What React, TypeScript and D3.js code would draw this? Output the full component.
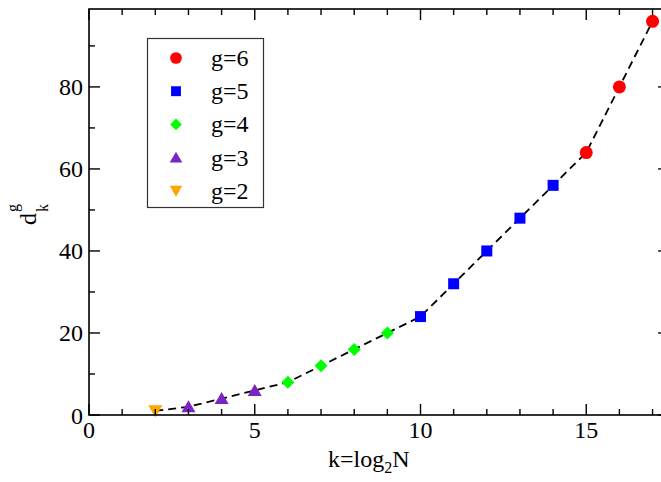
import React, { useEffect, useRef } from "react";
import * as d3 from "d3";

const kValues = [2, 3, 4, 5, 6, 7, 8, 9, 10, 11, 12, 13, 14, 15, 16, 17];
const dValues = [1, 2, 4, 6, 8, 12, 16, 20, 24, 32, 40, 48, 56, 64, 80, 96];
const gValues = [2, 3, 3, 3, 4, 4, 4, 4, 5, 5, 5, 5, 5, 6, 6, 6];

const legendGroups = [6, 5, 4, 3, 2];
const legendLabels = ["g=6", "g=5", "g=4", "g=3", "g=2"];
const xMajorTicks = [0, 5, 10, 15];
const yMajorTicks = [0, 20, 40, 60, 80];

const colors: Record<number, string> = {
  6: "#ff0000",
  5: "#0000ff",
  4: "#00ff00",
  3: "#7a24c4",
  2: "#ffa500",
};

const FONT = '"Liberation Serif", "Tinos", "Times New Roman", "Nimbus Roman", "FreeSerif", serif';

function Marker({ g, cx, cy, s = 1 }: { g: number; cx: number; cy: number; s?: number }) {
  const c = colors[g];
  if (g === 6) return <circle cx={cx} cy={cy} r={6.5 * s} fill={c} />;
  if (g === 5) return <rect x={cx - 5.5 * s} y={cy - 5.5 * s} width={11 * s} height={11 * s} fill={c} />;
  if (g === 4) {
    const r = 6.5 * s;
    return <path d={`M${cx},${cy - r}L${cx + r},${cy}L${cx},${cy + r}L${cx - r},${cy}Z`} fill={c} />;
  }
  if (g === 3) {
    const w = 7 * s, h = 6.5 * s;
    return <path d={`M${cx},${cy - h}L${cx + w},${cy + h * 0.85}L${cx - w},${cy + h * 0.85}Z`} fill={c} />;
  }
  const w = 7 * s, h = 6.5 * s;
  return <path d={`M${cx},${cy + h}L${cx + w},${cy - h * 0.85}L${cx - w},${cy - h * 0.85}Z`} fill={c} />;
}

export default function App() {
  const ref = useRef<SVGSVGElement | null>(null);
  const W = 661, H = 482;
  const left = 89, top = 9, bottom = 415;
  const x = d3.scaleLinear().domain([0, 17.5]).range([left, left + 17.5 * 33.15]);
  const y = d3.scaleLinear().domain([0, 99]).range([bottom, top]);
  const right = x(17.5);

  const pts = kValues.map((k, i) => ({ k, d: dValues[i], g: gValues[i] }));
  const line = d3.line<{ k: number; d: number }>().x((p) => x(p.k)).y((p) => y(p.d));

  const xMinor = d3.range(0, 18, 1).filter((v) => v % 5 !== 0);
  const yMinor = d3.range(10, 100, 20);

  useEffect(() => {
    if (ref.current) {
      d3.select(ref.current).selectAll("text").attr("font-family", FONT).style("font-family", FONT);
    }
  }, []);

  const T = (props: any) => <text fontFamily={FONT} style={{ fontFamily: FONT }} {...props} />;

  return (
    <svg ref={ref} width={W} height={H} fontFamily={FONT} style={{ display: "block", position: "absolute", left: 0, top: 0, background: "#fff", fontFamily: FONT }}>
      <path d={line(pts) || ""} fill="none" stroke="#000" strokeWidth={1.8} strokeDasharray="8,5" />
      {pts.map((p, i) => (
        <Marker key={i} g={p.g} cx={x(p.k)} cy={y(p.d)} />
      ))}
      <rect x={left} y={top} width={right - left} height={bottom - top} fill="none" stroke="#000" strokeWidth={1.6} />
      {xMajorTicks.map((v) => (
        <g key={"xm" + v}>
          <line x1={x(v)} x2={x(v)} y1={bottom} y2={bottom - 11} stroke="#000" strokeWidth={1.4} />
          <line x1={x(v)} x2={x(v)} y1={top} y2={top + 11} stroke="#000" strokeWidth={1.4} />
          <T x={x(v)} y={438} textAnchor="middle" fontSize={24}>{String(v)}</T>
        </g>
      ))}
      {xMinor.map((v) => (
        <g key={"xn" + v}>
          <line x1={x(v)} x2={x(v)} y1={bottom} y2={bottom - 6} stroke="#000" strokeWidth={1.4} />
          <line x1={x(v)} x2={x(v)} y1={top} y2={top + 6} stroke="#000" strokeWidth={1.4} />
        </g>
      ))}
      {yMajorTicks.map((v) => (
        <g key={"ym" + v}>
          <line x1={left} x2={left + 11} y1={y(v)} y2={y(v)} stroke="#000" strokeWidth={1.4} />
          <line x1={right} x2={right - 11} y1={y(v)} y2={y(v)} stroke="#000" strokeWidth={1.4} />
          <T x={83} y={y(v) + 8.5} textAnchor="end" fontSize={24}>{String(v)}</T>
        </g>
      ))}
      {yMinor.map((v) => (
        <g key={"yn" + v}>
          <line x1={left} x2={left + 6} y1={y(v)} y2={y(v)} stroke="#000" strokeWidth={1.4} />
          <line x1={right} x2={right - 6} y1={y(v)} y2={y(v)} stroke="#000" strokeWidth={1.4} />
        </g>
      ))}
      <T x={328} y={467} fontSize={24}>
        k=log<tspan fontSize={16} dy={6}>2</tspan><tspan dy={-6}>N</tspan>
      </T>
      <g transform="translate(36,225) rotate(-90)">
        <T x={0} y={0} fontSize={24}>d</T>
        <T x={13} y={12} fontSize={16}>k</T>
        <T x={13} y={-18} fontSize={16}>g</T>
      </g>
      <rect x={147.5} y={38.5} width={116} height={169} fill="#fff" stroke="#333" strokeWidth={1.2} />
      {legendGroups.map((g, i) => {
        const cy = 58 + i * 33.2;
        return (
          <g key={"lg" + g}>
            <Marker g={g} cx={176} cy={cy} s={0.9} />
            <T x={211} y={cy + 8} fontSize={24}>{legendLabels[i]}</T>
          </g>
        );
      })}
    </svg>
  );
}
